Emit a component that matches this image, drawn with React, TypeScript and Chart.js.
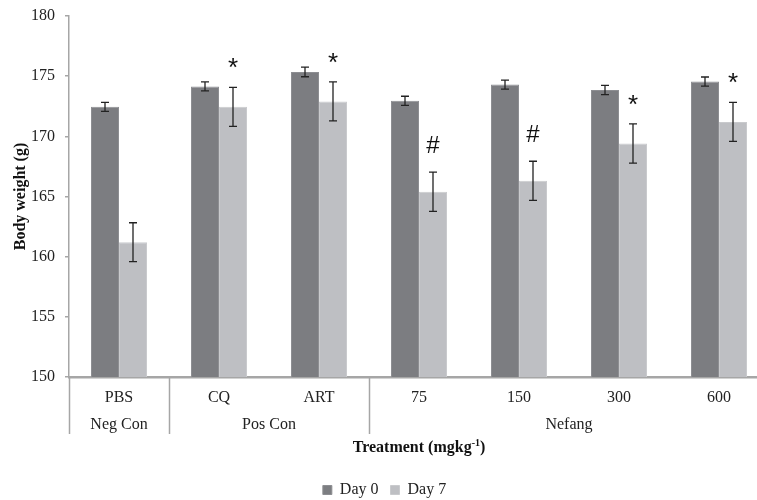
import React, { useEffect, useRef } from "react";
import { Chart, registerables } from "chart.js";

Chart.register(...registerables);

const categories = ["PBS", "CQ", "ART", "75", "150", "300", "600"];
const groupNames = ["Neg Con", "Pos Con", "Nefang"];
const groupSizes = [1, 2, 4];
const day0 = [172.45, 174.15, 175.35, 172.95, 174.3, 173.85, 174.55];
const day0Err = [0.37, 0.37, 0.4, 0.38, 0.37, 0.38, 0.38];
const day7 = [161.2, 172.45, 172.9, 165.4, 166.3, 169.4, 171.2];
const day7Err = [1.62, 1.62, 1.62, 1.63, 1.63, 1.63, 1.62];
const sigMarks = ["", "*", "*", "#", "#", "*", "*"];
const yTicks = [150, 155, 160, 165, 170, 175, 180];
const seriesNames = ["Day 0", "Day 7"];

const SERIF = "'Liberation Serif', 'Times New Roman', serif";
const SANS = "'Liberation Sans', Arial, sans-serif";

const overlayPlugin = {
  id: "overlay",
  afterDatasetsDraw(chart: any) {
    const ctx = chart.ctx;
    const x = chart.scales.x;
    const y = chart.scales.y;
    const area = chart.chartArea;
    ctx.save();
    // error bars
    const errs = [day0Err, day7Err];
    const vals = [day0, day7];
    ctx.strokeStyle = "#222";
    ctx.lineWidth = 1.3;
    for (let d = 0; d < 2; d++) {
      const meta = chart.getDatasetMeta(d);
      meta.data.forEach((bar: any, i: number) => {
        const cx = bar.x;
        const top = y.getPixelForValue(vals[d][i] + errs[d][i]);
        const bot = y.getPixelForValue(vals[d][i] - errs[d][i]);
        ctx.beginPath();
        ctx.moveTo(cx, top);
        ctx.lineTo(cx, bot);
        ctx.moveTo(cx - 4, top);
        ctx.lineTo(cx + 4, top);
        ctx.moveTo(cx - 4, bot);
        ctx.lineTo(cx + 4, bot);
        ctx.stroke();
      });
    }
    // significance marks
    const meta7 = chart.getDatasetMeta(1);
    ctx.fillStyle = "#111";
    ctx.textAlign = "center";
    ctx.textBaseline = "alphabetic";
    meta7.data.forEach((bar: any, i: number) => {
      const m = sigMarks[i];
      if (!m) return;
      const top = y.getPixelForValue(day7[i] + day7Err[i]);
      ctx.font = m === "*" ? `26px ${SANS}` : `24px ${SANS}`;
      const by = m === "*" ? top - 11 : top - 19;
      ctx.fillText(m, bar.x, by);
    });
    // separators
    ctx.strokeStyle = "#a6a6a6";
    ctx.lineWidth = 1.5;
    const step = (x.getPixelForValue(1) - x.getPixelForValue(0));
    const edge = (idx: number) => x.getPixelForValue(0) - step / 2 + idx * step;
    let acc = 0;
    const bounds = [0];
    groupSizes.forEach((s) => { acc += s; bounds.push(acc); });
    bounds.forEach((b) => {
      const px = Math.round(edge(b)) + 0.5;
      ctx.beginPath();
      ctx.moveTo(px, area.bottom);
      ctx.lineTo(px, area.bottom + 57);
      ctx.stroke();
    });
    // group labels
    ctx.fillStyle = "#222";
    ctx.font = `16px ${SERIF}`;
    ctx.textBaseline = "middle";
    groupNames.forEach((g, gi) => {
      const cx = (edge(bounds[gi]) + edge(bounds[gi + 1])) / 2;
      ctx.fillText(g, cx, area.bottom + 48);
    });
    // x title with superscript
    const tcx = (area.left + area.right) / 2;
    const ty = area.bottom + 71;
    const a = "Treatment (mgkg";
    const sup = "-1";
    const c = ")";
    ctx.fillStyle = "#111";
    ctx.font = `bold 16px ${SERIF}`;
    const wa = ctx.measureText(a).width;
    const wc = ctx.measureText(c).width;
    ctx.font = `bold 10px ${SERIF}`;
    const ws = ctx.measureText(sup).width;
    let sx = tcx - (wa + ws + wc) / 2;
    ctx.textAlign = "left";
    ctx.font = `bold 16px ${SERIF}`;
    ctx.fillText(a, sx, ty);
    sx += wa;
    ctx.font = `bold 10px ${SERIF}`;
    ctx.fillText(sup, sx, ty - 5);
    sx += ws;
    ctx.font = `bold 16px ${SERIF}`;
    ctx.fillText(c, sx, ty);
    ctx.restore();
  },
};

export default function App() {
  const ref = useRef<HTMLCanvasElement | null>(null);
  useEffect(() => {
    if (!ref.current) return;
    const chart = new Chart(ref.current, {
      type: "bar",
      data: {
        labels: categories,
        datasets: [
          {
            label: seriesNames[0],
            data: day0,
            backgroundColor: "#7c7d81",
            borderColor: "#8d8e92",
            borderWidth: 1,
            categoryPercentage: 0.56,
            barPercentage: 1,
          },
          {
            label: seriesNames[1],
            data: day7,
            backgroundColor: "#bebfc3",
            borderColor: "#c9cacd",
            borderWidth: 1,
            categoryPercentage: 0.56,
            barPercentage: 1,
          },
        ],
      },
      options: {
        responsive: false,
        animation: false,
        devicePixelRatio: 1,
        layout: { padding: { top: 16, left: 0, right: 9, bottom: -8 } },
        plugins: {
          tooltip: { enabled: false },
          legend: {
            position: "bottom",
            labels: {
              boxWidth: 9,
              boxHeight: 9,
              padding: 12,
              color: "#222",
              font: { family: SERIF, size: 16 },
            },
          },
        },
        scales: {
          x: {
            offset: true,
            grid: { display: false },
            border: { display: true, color: "#a6a6a6", width: 2.5 },
            ticks: { color: "#222", font: { family: SERIF, size: 16 }, padding: 3, maxRotation: 0 },
            afterFit: (s: any) => { s.height = 93; },
          },
          y: {
            min: 150,
            max: 180,
            afterBuildTicks: (s: any) => { s.ticks = yTicks.map((v) => ({ value: v })); },
            grid: { drawOnChartArea: false, drawTicks: true, tickLength: 4, color: "#a6a6a6", lineWidth: 1.5 },
            border: { display: true, color: "#a6a6a6", width: 1.5 },
            ticks: { color: "#222", font: { family: SERIF, size: 16 }, padding: 10 },
            title: {
              display: true,
              text: "Body weight (g)",
              color: "#111",
              font: { family: SERIF, size: 16, weight: "bold" },
              padding: { top: 11, bottom: 0 },
            },
            afterFit: (s: any) => { s.width = 69; s.paddingTop = 0; s.paddingBottom = 0; },
          },
        },
      },
      plugins: [overlayPlugin],
    } as any);
    return () => chart.destroy();
  }, []);
  return (
    <div style={{ position: "fixed", left: 0, top: 0, width: 757, height: 500, overflow: "hidden", background: "#fff" }}>
      <canvas ref={ref} width={778} height={500} style={{ width: 778, height: 500, display: "block" }} />
    </div>
  );
}
